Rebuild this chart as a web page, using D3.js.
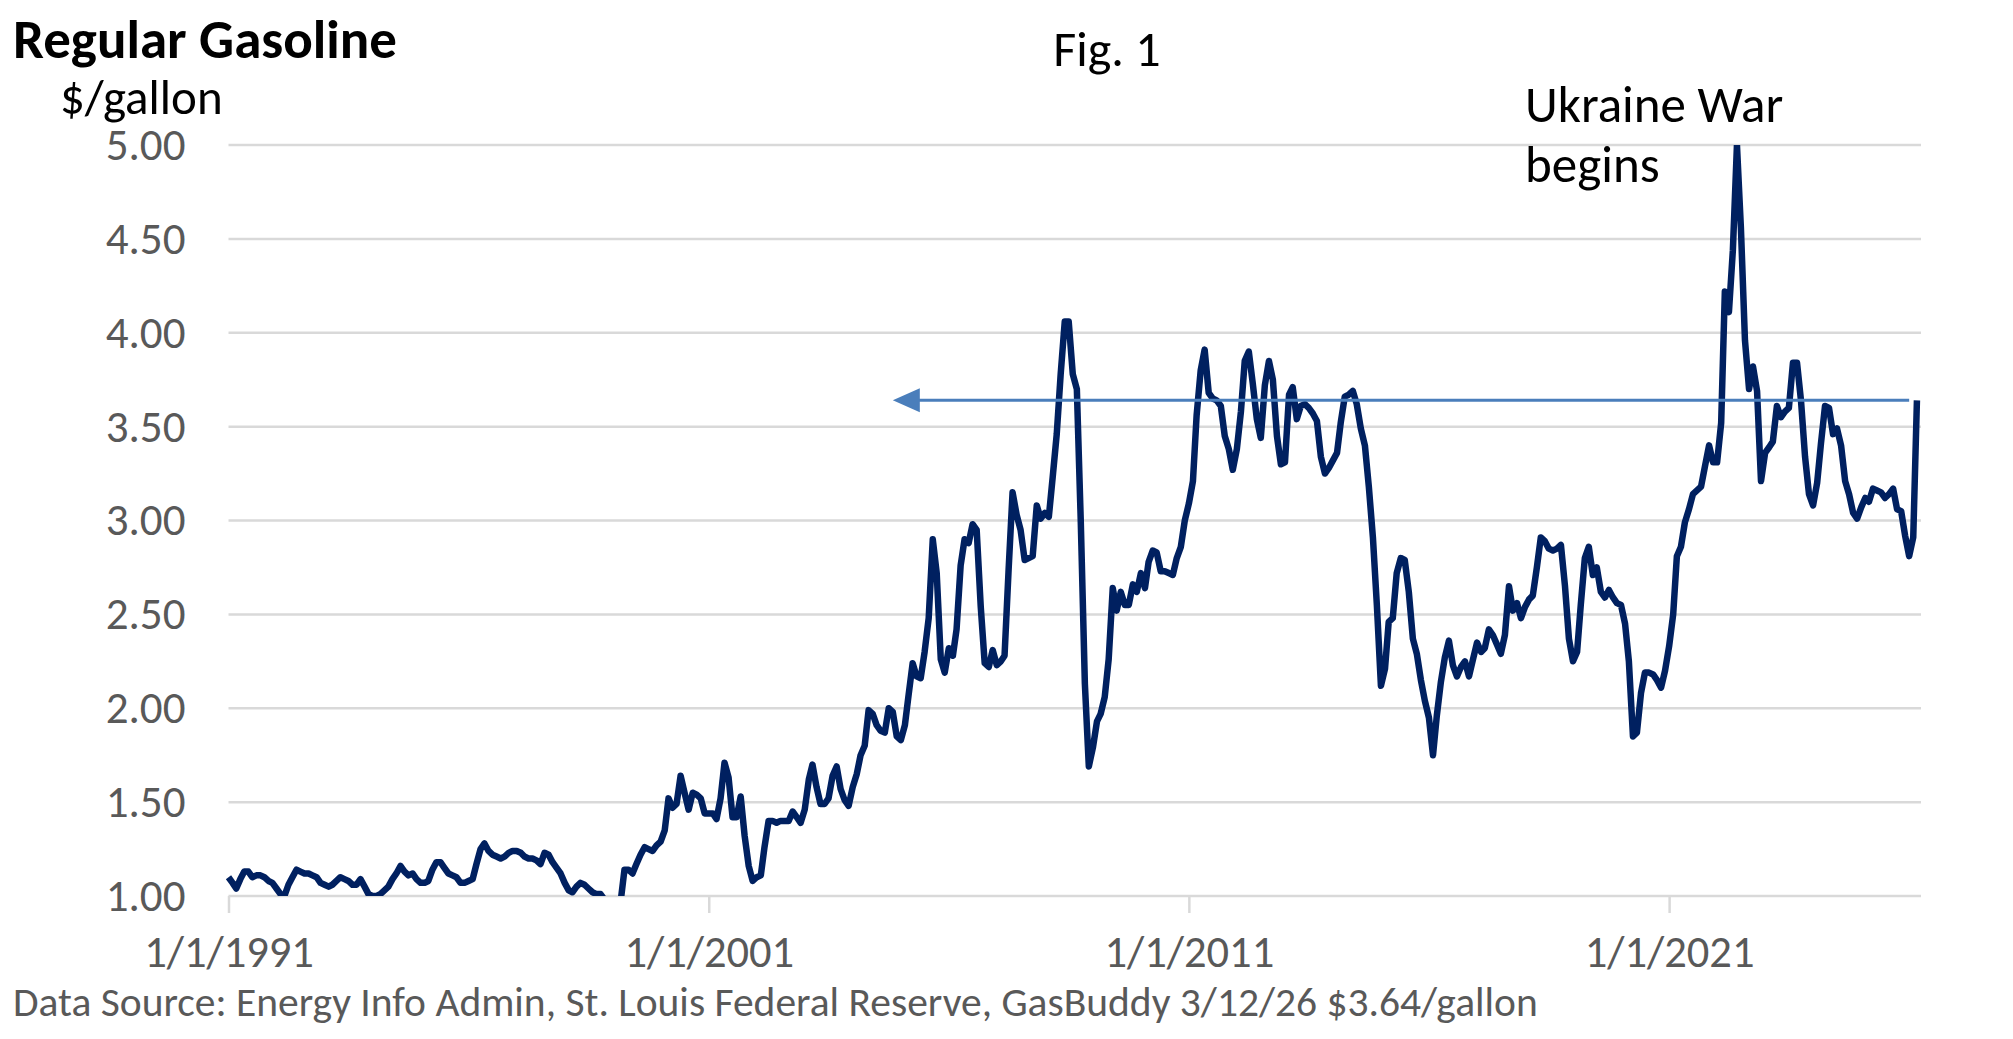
<!DOCTYPE html>
<html>
<head>
<meta charset="utf-8">
<script src="https://cdn.jsdelivr.net/npm/d3@7"></script>
<style>
  body { margin: 0; background: #fff; }
  svg { display: block; font-family: Carlito, Calibri, Lato, sans-serif; }
</style>
</head>
<body>
<div id="chart"></div>
<script>
// monthly average regular gasoline price, $/gallon, Jan 1991 .. Mar 2026
var firstMonth = new Date(1991, 0, 1);
var prices = [
  1.10,1.07,1.04,1.09,1.13,1.13,1.10,1.11,1.11,1.10,1.08,1.07, // 1991
  1.04,1.01,1.00,1.06,1.10,1.14,1.13,1.12,1.12,1.11,1.10,1.07, // 1992
  1.06,1.05,1.06,1.08,1.10,1.09,1.08,1.06,1.06,1.09,1.05,1.01, // 1993
  1.00,1.00,1.01,1.03,1.05,1.09,1.12,1.16,1.13,1.11,1.12,1.09, // 1994
  1.07,1.07,1.08,1.14,1.18,1.18,1.15,1.12,1.11,1.10,1.07,1.07, // 1995
  1.08,1.09,1.17,1.25,1.28,1.24,1.22,1.21,1.20,1.21,1.23,1.24, // 1996
  1.24,1.23,1.21,1.20,1.20,1.19,1.17,1.23,1.22,1.18,1.15,1.12, // 1997
  1.07,1.03,1.02,1.05,1.07,1.06,1.04,1.02,1.01,1.01,0.98,0.96, // 1998
  0.95,0.93,0.96,1.14,1.14,1.12,1.17,1.22,1.26,1.25,1.24,1.27, // 1999
  1.29,1.35,1.52,1.47,1.49,1.64,1.55,1.46,1.55,1.54,1.52,1.44, // 2000
  1.44,1.44,1.41,1.52,1.71,1.63,1.42,1.42,1.53,1.32,1.16,1.08, // 2001
  1.10,1.11,1.26,1.40,1.40,1.39,1.40,1.40,1.40,1.45,1.42,1.39, // 2002
  1.46,1.62,1.70,1.58,1.49,1.49,1.52,1.64,1.69,1.57,1.51,1.48, // 2003
  1.58,1.65,1.75,1.80,1.99,1.97,1.91,1.88,1.87,2.00,1.98,1.85, // 2004
  1.83,1.91,2.07,2.24,2.17,2.16,2.30,2.48,2.90,2.72,2.26,2.19, // 2005
  2.32,2.28,2.42,2.76,2.90,2.88,2.98,2.95,2.54,2.24,2.22,2.31, // 2006
  2.23,2.25,2.28,2.74,3.15,3.03,2.95,2.79,2.80,2.81,3.08,3.01, // 2007
  3.04,3.02,3.23,3.46,3.78,4.06,4.06,3.78,3.70,2.99,2.13,1.69, // 2008
  1.79,1.93,1.97,2.06,2.26,2.64,2.52,2.62,2.55,2.55,2.66,2.62, // 2009
  2.72,2.64,2.78,2.84,2.83,2.73,2.73,2.72,2.71,2.80,2.86,3.00, // 2010
  3.09,3.21,3.56,3.80,3.91,3.68,3.65,3.64,3.61,3.45,3.38,3.27, // 2011
  3.38,3.58,3.85,3.90,3.73,3.54,3.44,3.72,3.85,3.75,3.45,3.30, // 2012
  3.31,3.67,3.71,3.54,3.61,3.62,3.60,3.57,3.53,3.34,3.25,3.28, // 2013
  3.32,3.36,3.52,3.66,3.67,3.69,3.62,3.49,3.40,3.18,2.91,2.55, // 2014
  2.12,2.21,2.46,2.48,2.72,2.80,2.79,2.62,2.37,2.29,2.15,2.04, // 2015
  1.95,1.75,1.96,2.14,2.27,2.36,2.23,2.17,2.22,2.25,2.17,2.26, // 2016
  2.35,2.30,2.32,2.42,2.39,2.34,2.29,2.39,2.65,2.52,2.56,2.48, // 2017
  2.54,2.58,2.60,2.75,2.91,2.89,2.85,2.84,2.85,2.87,2.65,2.37, // 2018
  2.25,2.30,2.55,2.80,2.86,2.71,2.75,2.62,2.59,2.63,2.59,2.56, // 2019
  2.55,2.45,2.25,1.85,1.87,2.08,2.19,2.19,2.18,2.15,2.11,2.20, // 2020
  2.33,2.50,2.81,2.86,2.99,3.06,3.14,3.16,3.18,3.29,3.40,3.31, // 2021
  3.31,3.52,4.22,4.11,4.44,5.00,4.56,3.96,3.70,3.82,3.69,3.21, // 2022
  3.36,3.39,3.42,3.61,3.55,3.58,3.60,3.84,3.84,3.64,3.34,3.14, // 2023
  3.08,3.20,3.41,3.61,3.60,3.46,3.49,3.40,3.21,3.14,3.04,3.01, // 2024
  3.07,3.12,3.10,3.17,3.16,3.15,3.12,3.14,3.17,3.06,3.05,2.92, // 2025
  2.81,2.91,3.64                                               // 2026
];
var yTicks = [1.00, 1.50, 2.00, 2.50, 3.00, 3.50, 4.00, 4.50, 5.00];
var xTicks = ["1991-01-01", "2001-01-01", "2011-01-01", "2021-01-01"];

// GasBuddy level arrow and note
var arrowLevel = 3.64;
var arrowFrom = "2026-01-01";
var arrowTo = "2004-11-01";
var noteLines = ["Ukraine War", "begins"];

var titleText = "Regular Gasoline";
var unitText = "$/gallon";
var figText = "Fig. 1";
var sourceText = "Data Source: Energy Info Admin, St. Louis Federal Reserve, GasBuddy 3/12/26 $3.64/gallon";

var width = 2013, height = 1039;
var margin = { top: 145, right: 92, bottom: 143, left: 228.5 };
var parse = d3.timeParse("%Y-%m-%d");

var data = prices.map(function (p, i) {
  return { date: d3.timeMonth.offset(firstMonth, i), price: p };
});

var svg = d3.select("#chart").append("svg")
  .attr("width", width)
  .attr("height", height);

var x = d3.scaleTime()
  .domain([firstMonth, new Date(2026, 3, 1)])
  .range([margin.left, width - margin.right]);

var y = d3.scaleLinear()
  .domain([1, 5])
  .range([height - margin.bottom, margin.top]);

// gridlines
svg.append("g")
  .selectAll("line")
  .data(yTicks)
  .join("line")
  .attr("x1", x.range()[0])
  .attr("x2", x.range()[1])
  .attr("y1", function (d) { return y(d); })
  .attr("y2", function (d) { return y(d); })
  .attr("stroke", "#d9d9d9")
  .attr("stroke-width", 2.5);

var yAxis = svg.append("g")
  .attr("transform", "translate(" + margin.left + ",0)")
  .call(d3.axisLeft(y).tickValues(yTicks).tickFormat(d3.format(".2f")).tickSize(0).tickPadding(43))
  .attr("font-family", null)
  .attr("font-size", null);
yAxis.select(".domain").remove();
yAxis.selectAll("text")
  .attr("fill", "#595959")
  .style("font-size", "45px");

var xAxis = svg.append("g")
  .attr("transform", "translate(0," + y(1) + ")")
  .call(d3.axisBottom(x).tickValues(xTicks.map(parse)).tickFormat(d3.timeFormat("%-m/%-d/%Y")).tickSize(17).tickPadding(22))
  .attr("font-family", null)
  .attr("font-size", null);
xAxis.select(".domain").remove();
xAxis.selectAll("line").attr("stroke", "#d9d9d9").attr("stroke-width", 2.5);
xAxis.selectAll("text")
  .attr("fill", "#595959")
  .style("font-size", "44.5px");

// price line, cut at the axis limits like the spreadsheet chart
svg.append("clipPath")
  .attr("id", "plotclip")
  .append("rect")
  .attr("x", x.range()[0] - 5)
  .attr("y", y(5))
  .attr("width", x.range()[1] - x.range()[0] + 10)
  .attr("height", y(1) - y(5));

svg.append("path")
  .datum(data)
  .attr("clip-path", "url(#plotclip)")
  .attr("fill", "none")
  .attr("stroke", "#002060")
  .attr("stroke-width", 6.5)
  .attr("stroke-linejoin", "round")
  .attr("d", d3.line()
    .x(function (d) { return x(d.date); })
    .y(function (d) { return y(d.price); })
  );

// arrow back to earlier peaks
var ay = y(arrowLevel);
var tipX = x(parse(arrowTo));
svg.append("line")
  .attr("x1", x(parse(arrowFrom)))
  .attr("x2", tipX + 20)
  .attr("y1", ay)
  .attr("y2", ay)
  .attr("stroke", "#4a7ebb")
  .attr("stroke-width", 3);
svg.append("path")
  .attr("d", "M" + tipX + "," + ay + "L" + (tipX + 27) + "," + (ay - 12) + "L" + (tipX + 27) + "," + (ay + 12) + "Z")
  .attr("fill", "#4a7ebb");

// texts
svg.append("text")
  .attr("x", 13)
  .attr("y", 58)
  .style("font-size", "55px")
  .style("font-weight", "bold")
  .attr("fill", "#000")
  .text(titleText);

svg.append("text")
  .attr("x", 60)
  .attr("y", 114)
  .style("font-size", "49px")
  .attr("fill", "#000")
  .text(unitText);

svg.append("text")
  .attr("x", 1107)
  .attr("y", 66)
  .attr("text-anchor", "middle")
  .style("font-size", "50px")
  .attr("fill", "#000")
  .text(figText);

svg.append("g")
  .selectAll("text")
  .data(noteLines)
  .join("text")
  .attr("x", 1525)
  .attr("y", function (d, i) { return 122 + i * 60; })
  .style("font-size", "51px")
  .attr("fill", "#000")
  .text(function (d) { return d; });

svg.append("text")
  .attr("x", 13)
  .attr("y", 1016)
  .style("font-size", "41.5px")
  .attr("fill", "#595959")
  .text(sourceText);
</script>
</body>
</html>
